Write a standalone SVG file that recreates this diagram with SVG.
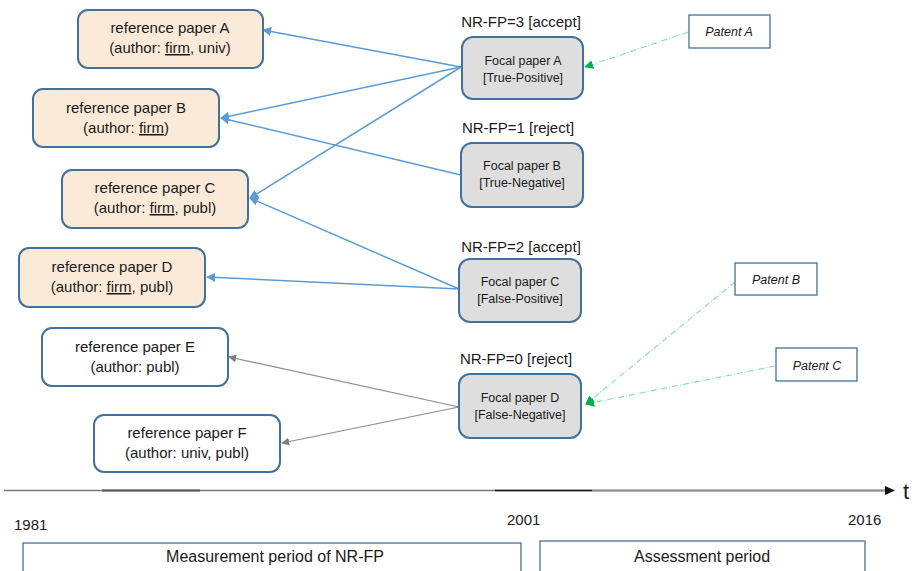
<svg xmlns="http://www.w3.org/2000/svg" width="915" height="571" viewBox="0 0 915 571">
<defs>
<style>
text{font-family:"Liberation Sans",Arial,sans-serif;fill:#1a1a1a}
.ref{fill:#fcead9;stroke:#41719c;stroke-width:2}
.refw{fill:#ffffff;stroke:#41719c;stroke-width:2}
.focal{fill:#dedede;stroke:#41719c;stroke-width:2}
.pat{fill:#ffffff;stroke:#41719c;stroke-width:1.3}
.per{fill:#ffffff;stroke:#41719c;stroke-width:1.3}
.rt{font-size:15px;text-anchor:middle}
.ft{font-size:12.5px;text-anchor:middle}
.lbl{font-size:15px;text-anchor:middle}
.pt{font-size:12.5px;font-style:italic;text-anchor:middle}
.yr{font-size:15px}
.u{text-decoration:underline}
.blue{stroke:#5b9bd5;stroke-width:1.5;fill:none;marker-end:url(#ab)}
.gray{stroke:#8c8c8c;stroke-width:1.2;fill:none;marker-end:url(#ag)}
.green{stroke:#7ee0a8;stroke-width:1.1;fill:none;stroke-dasharray:6 2 1 2;marker-end:url(#agr)}
</style>
<marker id="ab" viewBox="0 0 10 10" refX="9" refY="5" markerWidth="9" markerHeight="9" markerUnits="userSpaceOnUse" orient="auto"><path d="M0,0 L10,5 L0,10 z" fill="#5b9bd5"/></marker>
<marker id="ag" viewBox="0 0 10 10" refX="9" refY="5" markerWidth="8" markerHeight="8" markerUnits="userSpaceOnUse" orient="auto"><path d="M0,0 L10,5 L0,10 z" fill="#7f7f7f"/></marker>
<marker id="agr" viewBox="0 0 10 10" refX="9" refY="5" markerWidth="9" markerHeight="9" markerUnits="userSpaceOnUse" orient="auto"><path d="M0,0 L10,5 L0,10 z" fill="#00b050"/></marker>
</defs>
<rect width="915" height="571" fill="#ffffff"/>

<g id="connectors">
<line class="blue" x1="461" y1="67" x2="263" y2="30"/>
<line class="blue" x1="461" y1="67" x2="221" y2="118"/>
<line class="blue" x1="461" y1="67" x2="250" y2="198"/>
<line class="blue" x1="461" y1="175" x2="221" y2="118"/>
<line class="blue" x1="459" y1="289" x2="250" y2="198"/>
<line class="blue" x1="459" y1="289" x2="207" y2="277"/>
<line class="gray" x1="459" y1="407" x2="229" y2="357"/>
<line class="gray" x1="459" y1="407" x2="282" y2="443"/>
<line class="green" x1="688" y1="32" x2="585" y2="67"/>
<line class="green" x1="735" y1="282" x2="586" y2="404"/>
<line class="green" x1="775" y1="366" x2="586" y2="404"/>
</g>

<g id="refA">
<rect class="ref" x="78" y="10" width="185" height="58" rx="10"/>
<text class="rt" x="170" y="33">reference paper A</text>
<text class="rt" x="170" y="53">(author: <tspan class="u">firm</tspan>, univ)</text>
</g>
<g id="refB">
<rect class="ref" x="33" y="89" width="186" height="58" rx="10"/>
<text class="rt" x="126" y="113">reference paper B</text>
<text class="rt" x="126" y="133">(author: <tspan class="u">firm</tspan>)</text>
</g>
<g id="refC">
<rect class="ref" x="62" y="170" width="186" height="58" rx="10"/>
<text class="rt" x="155" y="193">reference paper C</text>
<text class="rt" x="155" y="213">(author: <tspan class="u">firm</tspan>, publ)</text>
</g>
<g id="refD">
<rect class="ref" x="19" y="248" width="186" height="59" rx="10"/>
<text class="rt" x="112" y="272">reference paper D</text>
<text class="rt" x="112" y="292">(author: <tspan class="u">firm</tspan>, publ)</text>
</g>
<g id="refE">
<rect class="refw" x="42" y="328" width="186" height="58" rx="10"/>
<text class="rt" x="135" y="352">reference paper E</text>
<text class="rt" x="135" y="372">(author: publ)</text>
</g>
<g id="refF">
<rect class="refw" x="94" y="415" width="186" height="57" rx="10"/>
<text class="rt" x="187" y="438">reference paper F</text>
<text class="rt" x="187" y="458">(author: univ, publ)</text>
</g>

<g id="focalA">
<text class="lbl" x="521" y="27">NR-FP=3 [accept]</text>
<rect class="focal" x="462" y="37" width="121" height="62" rx="11"/>
<text class="ft" x="523" y="65">Focal paper A</text>
<text class="ft" x="523" y="82">[True-Positive]</text>
</g>
<g id="focalB">
<text class="lbl" x="518" y="133">NR-FP=1 [reject]</text>
<rect class="focal" x="461" y="143" width="122" height="64" rx="11"/>
<text class="ft" x="522" y="170">Focal paper B</text>
<text class="ft" x="522" y="187">[True-Negative]</text>
</g>
<g id="focalC">
<text class="lbl" x="521" y="252">NR-FP=2 [accept]</text>
<rect class="focal" x="459" y="259" width="122" height="63" rx="11"/>
<text class="ft" x="520" y="286">Focal paper C</text>
<text class="ft" x="520" y="303">[False-Positive]</text>
</g>
<g id="focalD">
<text class="lbl" x="516" y="364">NR-FP=0 [reject]</text>
<rect class="focal" x="459" y="374" width="122" height="64" rx="11"/>
<text class="ft" x="520" y="402">Focal paper D</text>
<text class="ft" x="520" y="419">[False-Negative]</text>
</g>

<g id="patentA">
<rect class="pat" x="689" y="15" width="81" height="33"/>
<text class="pt" x="729" y="36">Patent A</text>
</g>
<g id="patentB">
<rect class="pat" x="735" y="263" width="82" height="32"/>
<text class="pt" x="776" y="284">Patent B</text>
</g>
<g id="patentC">
<rect class="pat" x="776" y="348" width="81" height="33"/>
<text class="pt" x="817" y="370">Patent C</text>
</g>

<g id="timeline">
<line x1="4" y1="490.5" x2="886" y2="490.5" stroke="#7a7a7a" stroke-width="1.3"/>
<line x1="592" y1="490.5" x2="886" y2="490.5" stroke="#8f8f8f" stroke-width="1.8"/>
<line x1="102" y1="490.5" x2="200" y2="490.5" stroke="#555555" stroke-width="2.2"/>
<line x1="495" y1="490.5" x2="592" y2="490.5" stroke="#111111" stroke-width="1.6"/>
<path d="M885,486 L895,490.5 L885,495 z" fill="#111111"/>
<text x="903" y="499" style="font-size:22px">t</text>
<text class="yr" x="14" y="530">1981</text>
<text class="yr" x="507" y="525">2001</text>
<text class="yr" x="848" y="525">2016</text>
</g>

<g id="periodM">
<rect class="per" x="23" y="543" width="498" height="40"/>
<text x="275" y="562" style="font-size:16px;text-anchor:middle">Measurement period of NR-FP</text>
</g>
<g id="periodA">
<rect class="per" x="540" y="541" width="325" height="42"/>
<text x="702" y="562" style="font-size:16px;text-anchor:middle">Assessment period</text>
</g>
</svg>
